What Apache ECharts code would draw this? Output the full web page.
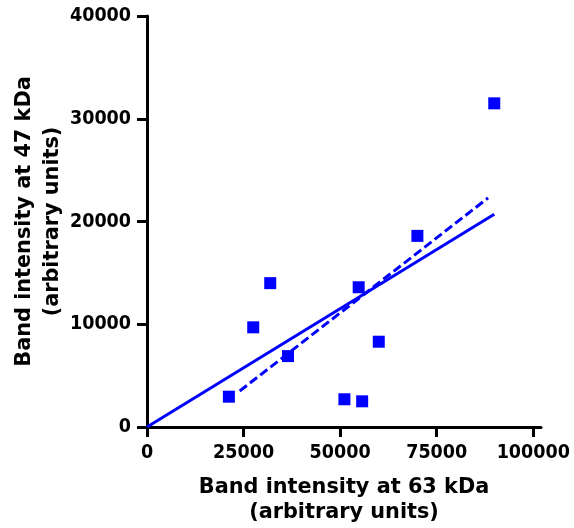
<!DOCTYPE html>
<html>
<head>
<meta charset="utf-8">
<script src="https://cdn.jsdelivr.net/npm/echarts@6/dist/echarts.min.js"></script>
<style>html,body{margin:0;padding:0;background:#fff;}#c{width:574px;height:528px;}</style>
</head>
<body>
<div id="c"></div>
<script>
const xValues = [21200, 27500, 31900, 36500, 51100, 54800, 55700, 60000, 70000, 89900];
const yValues = [2950, 9700, 14000, 6900, 2700, 13600, 2500, 8300, 18600, 31500];
const solidFitX = [0, 89900];
const solidFitY = [0, 20700];
const dashedFitX = [24000, 88300];
const dashedFitY = [3500, 22300];
const xTicks = [0, 25000, 50000, 75000, 100000];
const yTicks = [0, 10000, 20000, 30000, 40000];

const TICKFONT = '"DejaVu Sans Condensed", "DejaVu Sans", Verdana, sans-serif';
const FONT = '"DejaVu Sans", Verdana, sans-serif';
const BLUE = '#0000FF';
const zip = (a, b) => a.map((v, i) => [v, b[i]]);
const fmt = v => String(v);

const chart = echarts.init(document.getElementById('c'), null, {renderer: 'canvas'});
chart.setOption({
  animation: false,
  backgroundColor: '#ffffff',
  grid: {left: 147, right: 33, top: 16, bottom: 101, containLabel: false, outerBoundsMode: 'none'},
  xAxis: {
    type: 'value', min: 0, max: 102000, interval: 25000,
    splitLine: {show: false},
    axisLine: {show: true, onZero: false, lineStyle: {color: '#000', width: 3}},
    axisTick: {show: true, length: 10, lineStyle: {color: '#000', width: 3}, customValues: xTicks},
    axisLabel: {color: '#000', fontFamily: TICKFONT, fontWeight: 'bold', fontSize: 19.5, margin: 16, customValues: xTicks, formatter: fmt},
    name: 'Band intensity at 63 kDa\n(arbitrary units)',
    nameLocation: 'middle', nameGap: 48,
    nameTextStyle: {color: '#000', fontFamily: FONT, fontWeight: 'bold', fontSize: 20.8, lineHeight: 25}
  },
  yAxis: {
    type: 'value', min: 0, max: 40000, interval: 10000,
    splitLine: {show: false},
    axisLine: {show: true, onZero: false, lineStyle: {color: '#000', width: 3}},
    axisTick: {show: true, length: 10, lineStyle: {color: '#000', width: 3}, customValues: yTicks},
    axisLabel: {color: '#000', fontFamily: TICKFONT, fontWeight: 'bold', fontSize: 19.5, margin: 16, customValues: yTicks, formatter: fmt},
    name: 'Band intensity at 47 kDa\n(arbitrary units)',
    nameLocation: 'middle', nameGap: 80, nameRotate: 90, nameMoveOverlap: false,
    nameTextStyle: {color: '#000', fontFamily: FONT, fontWeight: 'bold', fontSize: 20.8, lineHeight: 28}
  },
  series: [
    {type: 'scatter', data: zip(xValues, yValues), symbol: 'rect', symbolSize: 12, itemStyle: {color: BLUE, opacity: 1}, z: 2},
    {type: 'line', data: zip(solidFitX, solidFitY), showSymbol: false, symbol: 'none', lineStyle: {color: BLUE, width: 3}, z: 3},
    {type: 'line', data: zip(dashedFitX, dashedFitY), showSymbol: false, symbol: 'none', lineStyle: {color: BLUE, width: 3, type: [9, 4]}, z: 3}
  ]
});
</script>
</body>
</html>
